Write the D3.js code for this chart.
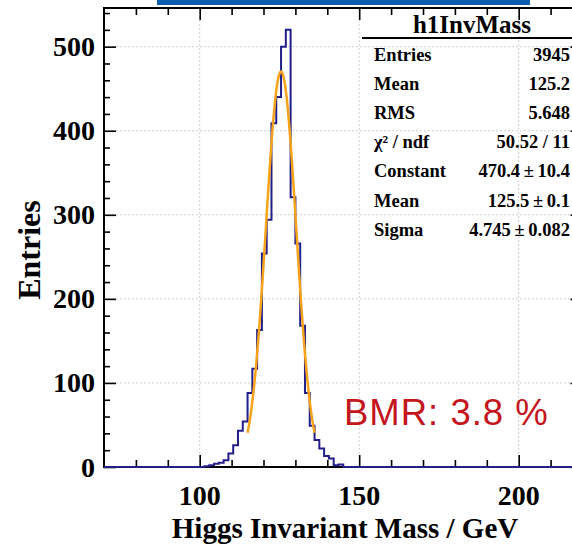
<!DOCTYPE html>
<html>
<head>
<meta charset="utf-8">
<script src="https://cdn.jsdelivr.net/npm/d3@7"></script>
<style>
  body { margin: 0; background: #fff; }
  svg { display: block; }
</style>
</head>
<body>
<div class="js-chart"></div>
<script>
// Histogram: 1.5 GeV bins from 70 to 220, counts listed from 100 GeV on (all others empty).
const binLow = 70;
const binHigh = 220;
const binWidth = 1.5;
const countsStart = 100;
const counts = [0, 1, 2, 4, 5, 8, 16, 26, 43, 54,
  88, 117, 163, 254, 294, 409, 440, 500, 520, 321,
  266, 168, 88, 49, 32, 22, 13, 10, 2, 3];

// Gaussian fit shown in the stats box, and its range.
const fitParams = { constant: 470.4, mean: 125.5, sigma: 4.745 };
const fitRange = [115, 136];

const xTicks = [100, 150, 200];
const yTicks = [0, 100, 200, 300, 400, 500];
const yMax = 546;

const statsTitle = 'h1InvMass';
const statsLabels = ['Entries', 'Mean', 'RMS', 'χ² / ndf', 'Constant', 'Mean', 'Sigma'];
const statsValues = ['3945', '125.2', '5.648', '50.52 / 11',
  '470.4\u2009±\u200910.4', '125.5\u2009±\u20090.1', '4.745\u2009±\u20090.082'];

const WIDTH = 572;
const HEIGHT = 545;
const serif = '"Liberation Serif", "Times New Roman", serif';

const svg = d3.select('.js-chart').append('svg')
  .attr('width', WIDTH)
  .attr('height', HEIGHT);

// plot frame, right edge runs past the picture
const frame = { left: 104, right: 582.5, top: 8, bottom: 467 };

const xScale = d3.scaleLinear()
  .domain([binLow, binHigh])
  .range([frame.left, frame.right]);

const yScale = d3.scaleLinear()
  .domain([0, yMax])
  .range([frame.bottom, frame.top]);

// blue strip at the very top
svg.append('rect')
  .attr('x', 157).attr('y', 0)
  .attr('width', 373).attr('height', 5)
  .attr('fill', '#0f5fb0');

// dotted grid
const grid = svg.append('g')
  .attr('stroke', '#cfcfcf')
  .attr('stroke-width', 1)
  .attr('stroke-dasharray', '2,2');

grid.selectAll('.gx').data(xTicks).join('line')
  .attr('x1', d => xScale(d)).attr('x2', d => xScale(d))
  .attr('y1', frame.top).attr('y2', frame.bottom);

grid.selectAll('.gy').data(yTicks.filter(d => d > 0)).join('line')
  .attr('x1', frame.left).attr('x2', frame.right)
  .attr('y1', d => yScale(d)).attr('y2', d => yScale(d));

// axes with ticks pointing inside the frame
const xMinor = d3.range(binLow + 10, binHigh, 10).filter(d => d % 50 !== 0);
const yMinor = d3.range(20, yMax, 20).filter(d => d % 100 !== 0);

const axisStyle = g => {
  g.select('.domain').remove();
  g.selectAll('.tick line').attr('stroke', '#000').attr('stroke-width', 1.6);
  g.selectAll('text').remove();
};

svg.append('g')
  .attr('transform', `translate(0,${frame.bottom})`)
  .call(d3.axisBottom(xScale).tickValues(xTicks).tickSize(-12))
  .call(axisStyle);
svg.append('g')
  .attr('transform', `translate(0,${frame.bottom})`)
  .call(d3.axisBottom(xScale).tickValues(xMinor).tickSize(-7))
  .call(axisStyle);
svg.append('g')
  .attr('transform', `translate(0,${frame.top})`)
  .call(d3.axisTop(xScale).tickValues(xTicks).tickSize(-12))
  .call(axisStyle);
svg.append('g')
  .attr('transform', `translate(0,${frame.top})`)
  .call(d3.axisTop(xScale).tickValues(xMinor).tickSize(-7))
  .call(axisStyle);

svg.append('g')
  .attr('transform', `translate(${frame.left},0)`)
  .call(d3.axisLeft(yScale).tickValues(yTicks).tickSize(-12))
  .call(axisStyle);
svg.append('g')
  .attr('transform', `translate(${frame.left},0)`)
  .call(d3.axisLeft(yScale).tickValues(yMinor).tickSize(-6))
  .call(axisStyle);
svg.append('g')
  .attr('transform', `translate(${frame.right},0)`)
  .call(d3.axisRight(yScale).tickValues(yTicks).tickSize(-12))
  .call(axisStyle);
svg.append('g')
  .attr('transform', `translate(${frame.right},0)`)
  .call(d3.axisRight(yScale).tickValues(yMinor).tickSize(-6))
  .call(axisStyle);

// frame
svg.append('rect')
  .attr('x', frame.left).attr('y', frame.top)
  .attr('width', frame.right - frame.left)
  .attr('height', frame.bottom - frame.top)
  .attr('fill', 'none')
  .attr('stroke', '#000')
  .attr('stroke-width', 2);

// tick labels
svg.append('g').selectAll('text').data(xTicks).join('text')
  .attr('x', d => xScale(d))
  .attr('y', 505)
  .attr('text-anchor', 'middle')
  .style('font', `bold 28px ${serif}`)
  .text(d => d);

svg.append('g').selectAll('text').data(yTicks).join('text')
  .attr('x', 95)
  .attr('y', d => yScale(d))
  .attr('dy', '0.34em')
  .attr('text-anchor', 'end')
  .style('font', `bold 28px ${serif}`)
  .text(d => d);

// axis titles
svg.append('text')
  .attr('x', 345).attr('y', 538)
  .attr('text-anchor', 'middle')
  .style('font', `bold 29px ${serif}`)
  .text('Higgs Invariant Mass / GeV');

svg.append('text')
  .attr('transform', 'translate(40,250) rotate(-90)')
  .attr('text-anchor', 'middle')
  .style('font', `bold 32px ${serif}`)
  .text('Entries');

// histogram outline
const nBins = Math.round((binHigh - binLow) / binWidth);
const startIdx = Math.round((countsStart - binLow) / binWidth);
const bins = d3.range(nBins).map(i => {
  const j = i - startIdx;
  return { x0: binLow + i * binWidth, n: (j >= 0 && j < counts.length) ? counts[j] : 0 };
});
bins.push({ x0: binHigh, n: bins[bins.length - 1].n });

const histLine = d3.line()
  .x(d => xScale(d.x0))
  .y(d => yScale(d.n))
  .curve(d3.curveStepAfter);

svg.append('path')
  .datum(bins)
  .attr('d', histLine)
  .attr('fill', 'none')
  .attr('stroke', '#221f8a')
  .attr('stroke-width', 2);

// gaussian fit curve
const gauss = x => fitParams.constant *
  Math.exp(-0.5 * Math.pow((x - fitParams.mean) / fitParams.sigma, 2));
const fitPts = d3.range(fitRange[0], fitRange[1] + 0.001, 0.1).map(x => ({ x, y: gauss(x) }));

svg.append('path')
  .datum(fitPts)
  .attr('d', d3.line().x(d => xScale(d.x)).y(d => yScale(d.y)))
  .attr('fill', 'none')
  .attr('stroke', '#f7a21b')
  .attr('stroke-width', 2.5);

// stats box
const stats = svg.append('g');
stats.append('text')
  .attr('x', 472).attr('y', 33)
  .attr('text-anchor', 'middle')
  .style('font', `bold 25px ${serif}`)
  .text(statsTitle);
stats.append('line')
  .attr('x1', 362).attr('x2', WIDTH)
  .attr('y1', 38).attr('y2', 38)
  .attr('stroke', '#000')
  .attr('stroke-width', 2);

stats.selectAll('.lab').data(statsLabels).join('text')
  .attr('x', 374)
  .attr('y', (d, i) => 61 + i * 29.1)
  .style('font', `bold 18.5px ${serif}`)
  .text(d => d);

stats.selectAll('.val').data(statsValues).join('text')
  .attr('x', 570)
  .attr('y', (d, i) => 61 + i * 29.1)
  .attr('text-anchor', 'end')
  .style('font', `bold 18.5px ${serif}`)
  .text(d => d);

// resolution note
svg.append('text')
  .attr('x', 344).attr('y', 425)
  .style('font', '36.5px "Liberation Sans", Arial, sans-serif')
  .style('letter-spacing', '1px')
  .attr('fill', '#c4161c')
  .text('BMR: 3.8 %');
</script>
</body>
</html>
